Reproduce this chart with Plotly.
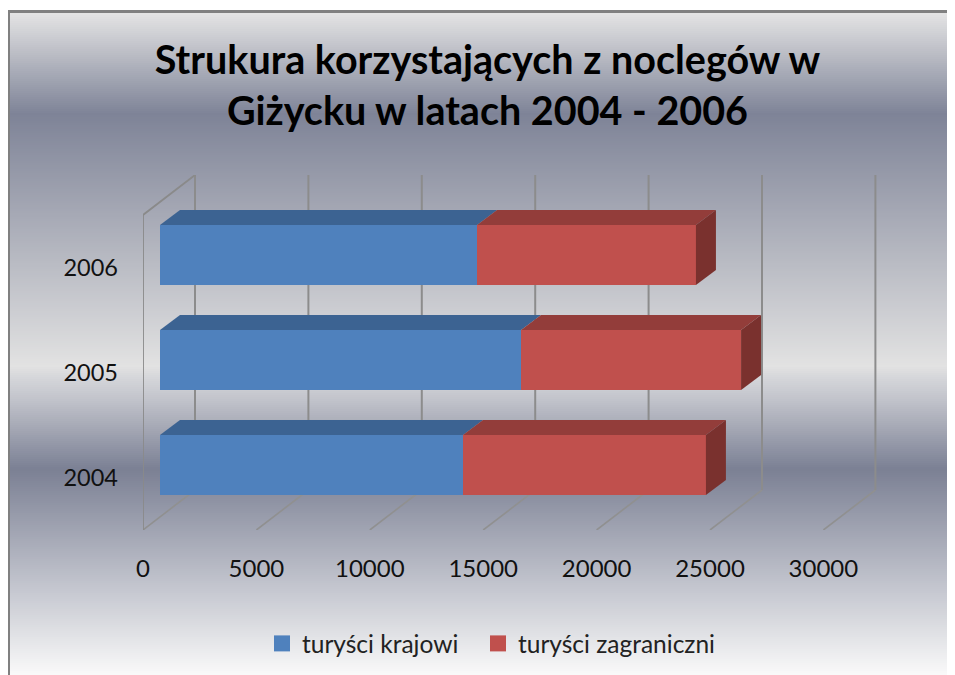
import plotly.graph_objects as go

years = [2004, 2005, 2006]
domestic = [13360, 15920, 13980]
foreign = [10710, 9700, 9650]
series_names = ["turyści krajowi", "turyści zagraniczni"]
x_ticks = [0, 5000, 10000, 15000, 20000, 25000, 30000]
title_text = "Strukura korzystających z noclegów w<br>Giżycku w latach 2004 - 2006"

OFF = 8                                # the page's own margin
W, H = 955 - OFF, 675 - OFF
PL, PR, PT, PB = 143 - OFF, 890 - OFF, 175 - OFF, 530 - OFF   # plot rectangle in figure pixels
PX_PER_X = 113.4 / 5000
PX_PER_Y = 105.0
FONT = "Lato"
BLUE, RED = "#4f81bd", "#c0504d"
BLUE_TOP, RED_TOP, RED_SIDE = "#3c6392", "#933d3a", "#7a312e"

# background gradient stops (page y, rgb)
stops = [(11, (229, 229, 229)), (113, (126, 131, 151)), (365, (226, 226, 226)),
         (378, (212, 213, 217)), (400, (192, 194, 202)), (468, (123, 128, 148)),
         (675, (250, 250, 250))]


def grad(y):
    for (a, ca), (b, cb) in zip(stops, stops[1:]):
        if a <= y <= b:
            t = (y - a) / (b - a)
            return tuple(round(p + (q - p) * t) for p, q in zip(ca, cb))
    return stops[-1][1]


def page_x(px):
    return (px - OFF - PL) / (PR - PL)


def page_y(py):
    return (PB - (py - OFF)) / (PB - PT)


shapes = []
for y in range(11, 675, 2):
    c = grad(y)
    shapes.append(dict(type="rect", xref="paper", yref="paper", layer="below",
                       x0=page_x(8), x1=page_x(960), y0=page_y(y), y1=page_y(y + 2.5),
                       fillcolor=f"rgb{c}", line_width=0))
for x0, x1, y0, y1 in [(8, 10, 10, 680), (8, 960, 10, 13)]:
    shapes.append(dict(type="rect", xref="paper", yref="paper", layer="below",
                       x0=page_x(x0), x1=page_x(x1), y0=page_y(y0), y1=page_y(y1),
                       fillcolor="#808080", line_width=0))

# axis ranges
x_max = (PR - PL) / PX_PER_X
WALL_DX = 52 / PX_PER_X
WALL_DY = 40 / PX_PER_Y
y_lo = 2004 - (530 - 478) / PX_PER_Y
y_hi = 2006 + (268 - 175) / PX_PER_Y
bar_x_shift = 17 / PX_PER_X
bar_y_shift = 13 / PX_PER_Y
BAR_W = 60 / PX_PER_Y
DEPTH_X = 20 / PX_PER_X
DEPTH_Y = 15 / PX_PER_Y

fig = go.Figure()

# walls and gridlines
floor_x, floor_y, wall_x, wall_y = [], [], [], []
for t in x_ticks:
    floor_x += [t, t + WALL_DX, None]
    floor_y += [y_lo, y_lo + WALL_DY, None]
    wall_x += [t + WALL_DX, t + WALL_DX, None]
    wall_y += [y_lo + WALL_DY, y_hi, None]
fig.add_trace(go.Scatter(x=floor_x, y=floor_y, mode="lines", showlegend=False, hoverinfo="skip",
                         line=dict(color="#909090", width=1.6), xaxis="x", yaxis="y"))
fig.add_trace(go.Scatter(x=wall_x, y=wall_y, mode="lines", showlegend=False, hoverinfo="skip",
                         line=dict(color="#8c8c8c", width=2), xaxis="x", yaxis="y"))
fig.add_trace(go.Scatter(x=[0, 0, WALL_DX], y=[y_lo, y_hi - WALL_DY, y_hi], mode="lines",
                         showlegend=False, hoverinfo="skip",
                         line=dict(color="#8a8a8a", width=1.8), xaxis="x", yaxis="y"))

# front faces
fig.add_trace(go.Bar(y=years, x=domestic, orientation="h", width=BAR_W, marker=dict(color=BLUE, line_width=0),
                     name=series_names[0], showlegend=False, xaxis="x2", yaxis="y2"))
fig.add_trace(go.Bar(y=years, x=foreign, orientation="h", width=BAR_W, marker=dict(color=RED, line_width=0),
                     name=series_names[1], showlegend=False, xaxis="x2", yaxis="y2"))

# top and side faces
for yr, d, f in zip(years, domestic, foreign):
    top = yr + BAR_W / 2
    bot = yr - BAR_W / 2
    end = d + f
    for a, b, col in [(0, d, BLUE_TOP), (d, end, RED_TOP)]:
        fig.add_trace(go.Scatter(x=[a, b, b + DEPTH_X, a + DEPTH_X, a],
                                 y=[top, top, top + DEPTH_Y, top + DEPTH_Y, top],
                                 mode="lines", fill="toself", fillcolor=col, line_width=0,
                                 showlegend=False, hoverinfo="skip", xaxis="x2", yaxis="y2"))
    fig.add_trace(go.Scatter(x=[end, end + DEPTH_X, end + DEPTH_X, end, end],
                             y=[top, top + DEPTH_Y, bot + DEPTH_Y, bot, top],
                             mode="lines", fill="toself", fillcolor=RED_SIDE, line_width=0,
                             showlegend=False, hoverinfo="skip", xaxis="x2", yaxis="y2"))

# legend keys, one legend box each so the gap between them can be placed
for name, col, lg in zip(series_names, [BLUE, RED], ["legend", "legend2"]):
    fig.add_trace(go.Scatter(x=[None], y=[None], mode="markers", name=name, legend=lg,
                             marker=dict(symbol="square", size=16, color=col), xaxis="x2", yaxis="y2"))

legend_style = dict(orientation="h", xref="container", yref="container", y=0.081,
                    xanchor="left", yanchor="top", bgcolor="rgba(0,0,0,0)", itemclick=False,
                    font=dict(size=24.5, family=FONT, color="#222222"))

fig.update_layout(
    width=W, height=H, autosize=False,
    margin=dict(l=PL, r=W - PR, t=PT, b=H - PB, pad=0),
    paper_bgcolor="white", plot_bgcolor="rgba(0,0,0,0)",
    barmode="stack", bargap=0,
    shapes=shapes,
    font=dict(family=FONT, color="#111111"),
    title=dict(text=title_text, x=0.5063, xanchor="center", xref="container",
               y=0.9015, yanchor="top", yref="container",
               font=dict(family=FONT, size=39.5, color="black", weight="bold")),
    legend=dict(x=0.2682, **legend_style),
    legend2=dict(x=0.4963, **legend_style),
    xaxis=dict(range=[0, x_max], tickvals=x_ticks, tickformat="d", showgrid=False, zeroline=False,
               showline=False, ticks="", ticklabelstandoff=22, tickfont=dict(size=24, family=FONT)),
    yaxis=dict(range=[y_lo, y_hi], tickvals=years, tickformat="d", showgrid=False, zeroline=False,
               showline=False, ticks="", ticklabelstandoff=24, tickfont=dict(size=23.5, family=FONT)),
    xaxis2=dict(range=[-bar_x_shift, x_max - bar_x_shift], overlaying="x", visible=False),
    yaxis2=dict(range=[y_lo - bar_y_shift, y_hi - bar_y_shift], overlaying="y", visible=False),
)

fig.write_html("out.html")
